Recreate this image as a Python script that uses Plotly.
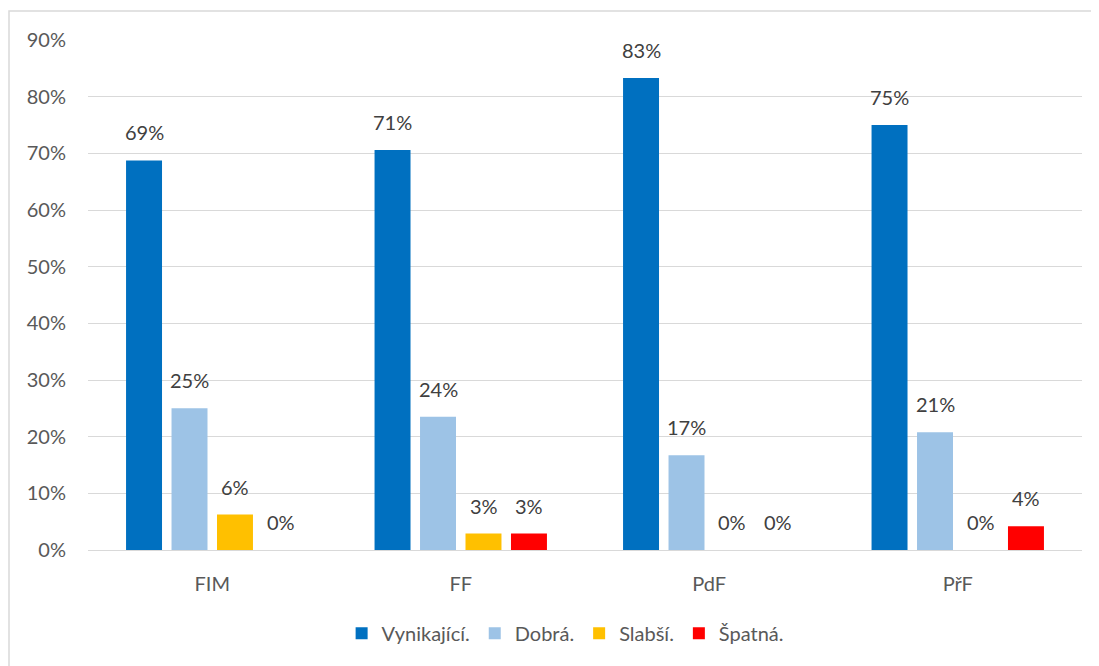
import plotly.graph_objects as go

categories = ["FIM", "FF", "PdF", "PřF"]
series_names = ["Vynikající.", "Dobrá.", "Slabší.", "Špatná."]
vynikajici = [0.6875, 0.706, 0.833, 0.75]
dobra = [0.25, 0.235, 0.167, 0.208]
slabsi = [0.0625, 0.029, 0.0, 0.0]
spatna = [0.0, 0.029, 0.0, 0.042]
colors = ["#0070C0", "#9DC3E6", "#FFC000", "#FF0000"]
y_ticks = [0, 0.1, 0.2, 0.3, 0.4, 0.5, 0.6, 0.7, 0.8, 0.9]

series = [vynikajici, dobra, slabsi, spatna]
FONT = "Lato"
FS = 20

fig = go.Figure()
for name, vals, col in zip(series_names, series, colors):
    fig.add_trace(go.Bar(x=categories, y=vals, name=name, marker_color=col,
                         marker_line_width=0))

slot_px = 45.5
annotations = []
for i, vals in enumerate(series):
    for cat, v in zip(categories, vals):
        annotations.append(dict(
            x=cat, y=v, xref="x", yref="y", text=f"{round(v*100):.0f}%",
            showarrow=False, xshift=(i - 1.5) * slot_px, yshift=14,
            yanchor="bottom", font=dict(family=FONT, size=FS, color="#404040")))

# page body has an 8px margin; plot area targeted at x 88-1082, y 40-550 on screen
fig.update_layout(
    width=1099, height=666,
    margin=dict(l=80, r=25, t=32, b=124),
    paper_bgcolor="white", plot_bgcolor="white",
    barmode="group", bargap=0.268, bargroupgap=0.209,
    showlegend=True,
    legend=dict(orientation="h", x=0.48, xanchor="center", y=-0.163, yanchor="middle",
                font=dict(family=FONT, size=FS, color="#595959"),
                itemwidth=30, traceorder="normal"),
    annotations=annotations,
    font=dict(family=FONT),
    shapes=[dict(type="rect", xref="paper", yref="paper",
                 x0=(9 - 88) / 994, x1=(1110 - 88) / 994,
                 y0=(550 - 680) / 510, y1=(550 - 11) / 510,
                 line=dict(color="#D9D9D9", width=1.5), fillcolor="rgba(0,0,0,0)",
                 layer="below")],
)
fig.update_yaxes(range=[0, 0.9], tickvals=y_ticks, tickformat=".0%",
                 showgrid=True, gridcolor="#D9D9D9", gridwidth=1,
                 zeroline=False, showline=False, ticks="",
                 tickfont=dict(family=FONT, size=FS, color="#595959"),
                 ticklabelstandoff=21)
fig.update_xaxes(showline=True, linecolor="#D9D9D9", linewidth=1, ticks="",
                 tickfont=dict(family=FONT, size=FS, color="#595959"),
                 ticklabelstandoff=16)

fig.write_html("out.html")
